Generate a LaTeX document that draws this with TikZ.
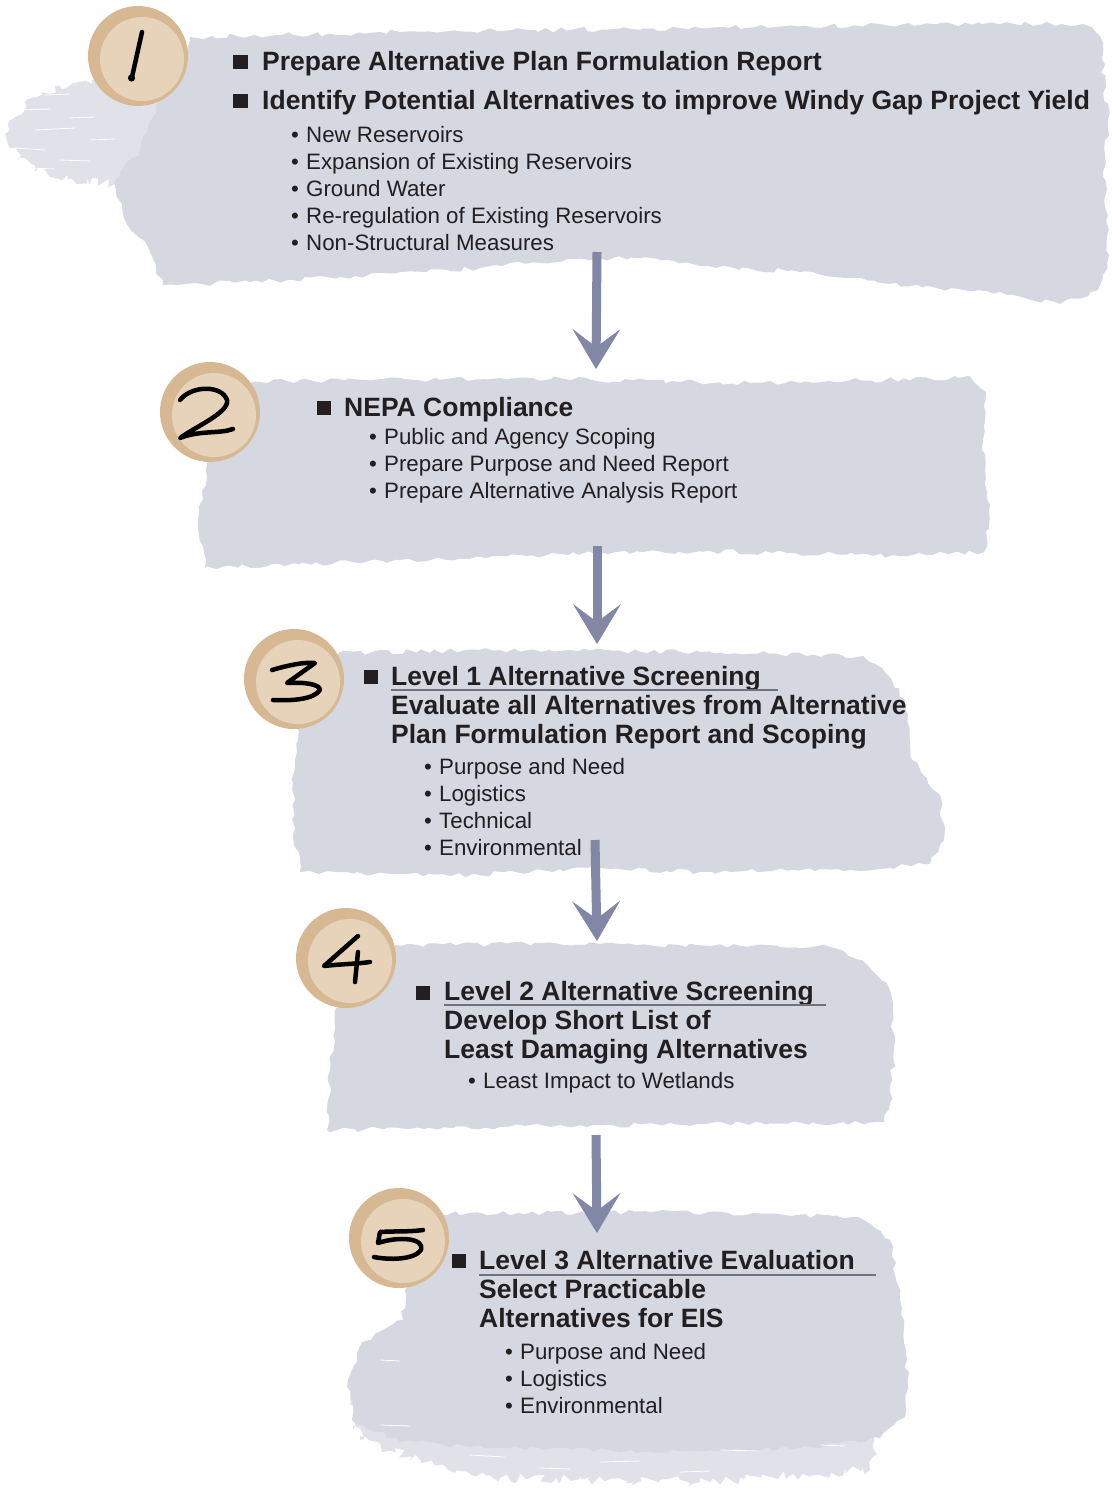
\documentclass[tikz,border=0pt]{standalone}
\usepackage{fontspec}
\setmainfont{Liberation Sans}
\usetikzlibrary{arrows.meta,decorations.pathmorphing}
\definecolor{brush}{HTML}{D5D7E1}
\definecolor{arrowc}{HTML}{8387A6}
\definecolor{tanout}{HTML}{D6B993}
\definecolor{tanin}{HTML}{E6D3B9}
\definecolor{ink}{HTML}{231F20}
\definecolor{uline}{HTML}{6F7080}
\newcommand\bul[1]{\makebox[15pt][l]{•}#1}
\tikzset{
  brushfill/.style={fill=brush, draw=none, decorate, decoration={random steps, segment length=7pt, amplitude=2.5pt}},
  dryfill/.style={fill=brush, draw=none, opacity=0.7, decorate, decoration={random steps, segment length=4pt, amplitude=5pt}},
  streak/.style={draw=white, line width=0.8pt},
  head/.style={anchor=base west, inner sep=0pt, font=\fontsize{26.5}{30}\selectfont\bfseries, text=ink},
  item/.style={anchor=base west, inner sep=0pt, font=\fontsize{22.3}{27}\selectfont, text=ink},
  sq/.style={fill=ink},
  disc/.style={circle, fill=tanout, minimum size=100pt, inner sep=0pt},
  inner disc/.style={fill=tanin},
  digit/.style={draw=black, line width=4.5pt, line cap=round, line join=round},
  uline/.style={draw=uline, line width=1.3pt},
  flow/.style={draw=arrowc, line width=9pt, -{Stealth[length=40pt,width=48pt,inset=18pt,line width=1pt]}},
}
\begin{document}
\begin{tikzpicture}[x=1pt,y=-1pt]
\pgfmathsetseed{17}
\fill[white] (0,0) rectangle (1111,1491);
\useasboundingbox (0,0) rectangle (1111,1491);

% ---------- brush strokes ----------
% step 1
\fill[brushfill] (190,37) -- (400,32) -- (700,28) -- (900,25) -- (1083,24) -- (1100,36) -- (1108,120) -- (1104,200) -- (1109,255) -- (1098,290) -- (1060,304) -- (1000,292) -- (922,287) -- (800,272) -- (709,266) -- (640,258) -- (567,259) -- (480,268) -- (355,276) -- (250,282) -- (163,285) -- (150,252) -- (124,218) -- (114,182) -- (140,150) -- (160,100) -- (180,60) -- cycle;
\fill[dryfill] (182,78) -- (120,80) -- (60,86) -- (25,102) -- (8,132) -- (18,160) -- (55,178) -- (115,184) -- (150,170) -- cycle;
\draw[streak] (20,110) -- (50,109); \draw[streak] (35,130) -- (75,128);
\draw[streak] (15,148) -- (45,150); \draw[streak] (60,160) -- (90,161);
\draw[streak] (45,95) -- (70,94); \draw[streak] (90,140) -- (115,139);
\draw[streak] (70,118) -- (95,117); \draw[streak] (30,168) -- (55,169);
% step 2
\fill[brushfill] (252,382) -- (500,378) -- (750,383) -- (971,378) -- (986,392) -- (982,450) -- (990,505) -- (984,552) -- (900,556) -- (700,551) -- (500,556) -- (300,564) -- (205,568) -- (198,520) -- (206,470) -- (214,445) -- (235,420) -- cycle;
% step 3
\fill[brushfill] (338,653) -- (500,650) -- (700,652) -- (863,656) -- (882,668) -- (905,700) -- (912,760) -- (940,795) -- (944,840) -- (930,864) -- (850,870) -- (700,872) -- (600,868) -- (450,876) -- (300,872) -- (292,820) -- (295,760) -- (298,712) -- (320,690) -- cycle;
% step 4
\fill[brushfill] (395,945) -- (600,944) -- (831,947) -- (862,960) -- (890,990) -- (894,1050) -- (890,1103) -- (884,1122) -- (706,1124) -- (500,1127) -- (327,1130) -- (330,1070) -- (336,1008) -- (370,985) -- cycle;
% step 5
\fill[brushfill] (440,1214) -- (650,1212) -- (858,1217) -- (890,1240) -- (900,1300) -- (907,1360) -- (905,1417) -- (880,1438) -- (800,1448) -- (650,1452) -- (500,1448) -- (400,1442) -- (352,1420) -- (348,1380) -- (362,1342) -- (403,1320) -- (405,1290) -- (420,1250) -- cycle;
\fill[dryfill] (350,1400) -- (500,1440) -- (700,1445) -- (880,1430) -- (870,1470) -- (700,1482) -- (500,1478) -- (420,1460) -- (360,1440) -- cycle;
\draw[streak] (380,1425) -- (410,1426); \draw[streak] (470,1455) -- (505,1457);
\draw[streak] (600,1462) -- (640,1461); \draw[streak] (720,1450) -- (760,1451);
\draw[streak] (380,1360) -- (400,1361); \draw[streak] (820,1445) -- (845,1446);
\draw[streak] (540,1468) -- (570,1469); \draw[streak] (680,1472) -- (710,1471);

% ---------- arrows ----------
\coordinate (a1s) at (597,252); \coordinate (a1e) at (596,369);
\coordinate (a2s) at (597,546); \coordinate (a2e) at (597,644);
\coordinate (a3s) at (595,840); \coordinate (a3e) at (597,941);
\coordinate (a4s) at (596,1135); \coordinate (a4e) at (597,1233);
\draw[flow] (a1s) -- (a1e);
\draw[flow] (a2s) -- (a2e);
\draw[flow] (a3s) -- (a3e);
\draw[flow] (a4s) -- (a4e);

% ---------- number discs ----------
\node[disc] (c1) at (138,56) {};
\node[disc] (c2) at (210,412) {};
\node[disc] (c3) at (294,679) {};
\node[disc] (c4) at (346,958) {};
\node[disc] (c5) at (399,1238) {};
\foreach \c in {c1,c2,c3,c4,c5}{\fill[inner disc] ([shift={(4,3)}]\c.center) circle (42pt);}
\begin{scope}[shift={(c1.center)}]
  \draw[digit] (4,-24) -- (-6,21);
  \fill (-6.5,22) circle (3.6pt);
\end{scope}
\begin{scope}[shift={(c2.center)}]
  \draw[digit] (-30,-12) .. controls (-18,-27) and (12,-27) .. (17,-12) .. controls (20,0) and (-15,15) .. (-30,26) .. controls (-10,18) and (10,22) .. (23,17);
\end{scope}
\begin{scope}[shift={(c3.center)}]
  \draw[digit] (-22,-9) .. controls (-5,-14) and (10,-17) .. (21,-16) -- (-7,4) .. controls (10,3) and (26,5) .. (26,11) .. controls (20,20) and (0,22) .. (-21,21);
\end{scope}
\begin{scope}[shift={(c4.center)}]
  \draw[digit] (12,-22) -- (-22,8) .. controls (-5,6) and (10,6) .. (24,4);
  \draw[digit] (12,-6) -- (9,24);
\end{scope}
\begin{scope}[shift={(c5.center)}]
  \draw[digit] (24,-8) .. controls (10,-6) and (-5,-7) .. (-19,-6) -- (-21,5) .. controls (0,-2) and (26,0) .. (22,12) .. controls (15,22) and (-10,22) .. (-25,19);
\end{scope}

% ---------- step 1 text ----------
\fill[sq] (233,55) rectangle (248,69);
\fill[sq] (233,94) rectangle (248,108);
\node[head] (h1a) at (262,70) {Prepare Alternative Plan Formulation Report};
\node[head] (h1b) at (262,109) {Identify Potential Alternatives to improve Windy Gap Project Yield};
\node[item] (i1a) at (291,142) {\bul{New Reservoirs}};
\node[item] (i1b) at (291,169) {\bul{Expansion of Existing Reservoirs}};
\node[item] (i1c) at (291,196) {\bul{Ground Water}};
\node[item] (i1d) at (291,223) {\bul{Re-regulation of Existing Reservoirs}};
\node[item] (i1e) at (291,250) {\bul{Non-Structural Measures}};

% ---------- step 2 text ----------
\fill[sq] (317,401) rectangle (331,415);
\node[head] (h2) at (344,416) {NEPA Compliance};
\node[item] (i2a) at (369,444) {\bul{Public and Agency Scoping}};
\node[item] (i2b) at (369,471) {\bul{Prepare Purpose and Need Report}};
\node[item] (i2c) at (369,498) {\bul{Prepare Alternative Analysis Report}};

% ---------- step 3 text ----------
\fill[sq] (364,670) rectangle (378,684);
\node[head] (h3a) at (391,685) {Level 1 Alternative Screening};
\draw[uline] (391,690) -- (778,690);
\node[head] (h3b) at (391,714) {Evaluate all Alternatives from Alternative};
\node[head] (h3c) at (391,743) {Plan Formulation Report and Scoping};
\node[item] (i3a) at (424,774) {\bul{Purpose and Need}};
\node[item] (i3b) at (424,801) {\bul{Logistics}};
\node[item] (i3c) at (424,828) {\bul{Technical}};
\node[item] (i3d) at (424,855) {\bul{Environmental}};

% ---------- step 4 text ----------
\fill[sq] (416,986) rectangle (430,1000);
\node[head] (h4a) at (444,1000) {Level 2 Alternative Screening};
\draw[uline] (444,1005) -- (826,1005);
\node[head] (h4b) at (444,1029) {Develop Short List of};
\node[head] (h4c) at (444,1058) {Least Damaging Alternatives};
\node[item] (i4a) at (468,1088) {\bul{Least Impact to Wetlands}};

% ---------- step 5 text ----------
\fill[sq] (452,1254) rectangle (466,1268);
\node[head] (h5a) at (479,1269) {Level 3 Alternative Evaluation};
\draw[uline] (479,1275) -- (876,1275);
\node[head] (h5b) at (479,1298) {Select Practicable};
\node[head] (h5c) at (479,1327) {Alternatives for EIS};
\node[item] (i5a) at (505,1359) {\bul{Purpose and Need}};
\node[item] (i5b) at (505,1386) {\bul{Logistics}};
\node[item] (i5c) at (505,1413) {\bul{Environmental}};
\end{tikzpicture}
\end{document}
